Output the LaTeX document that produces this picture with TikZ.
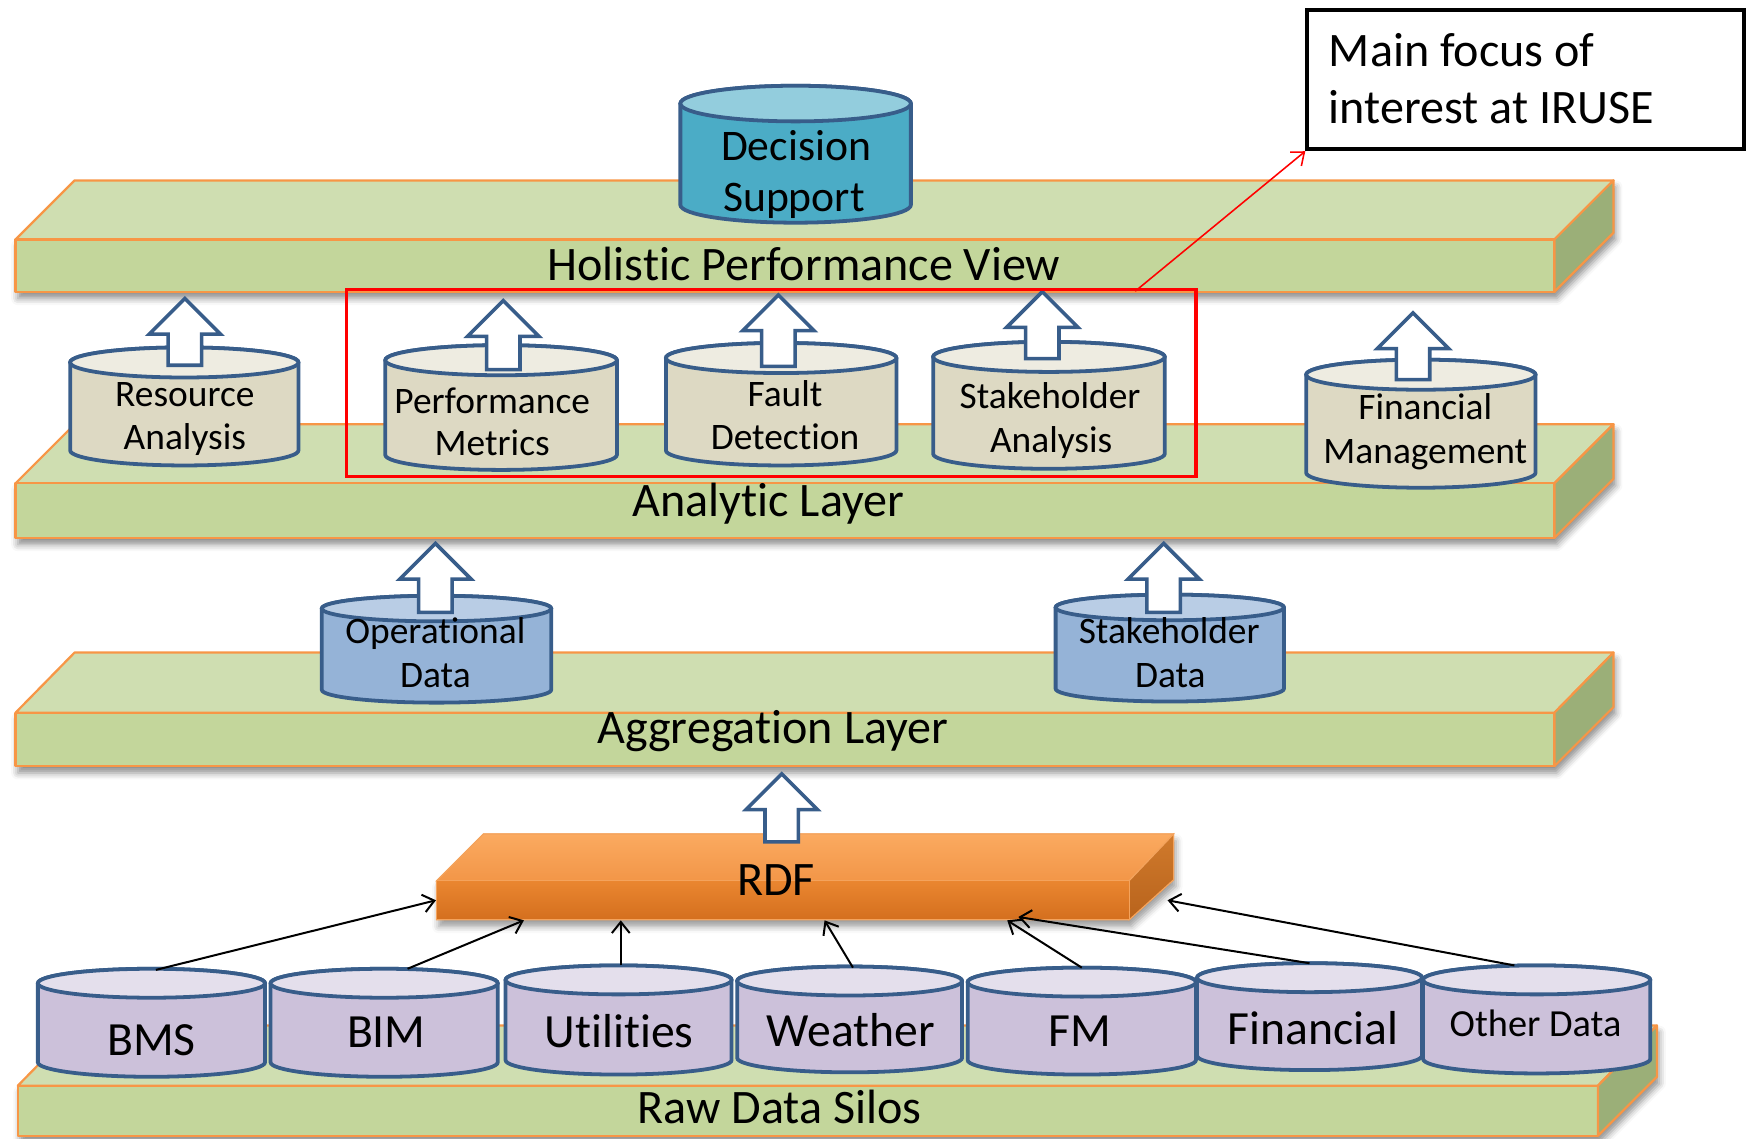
\documentclass[tikz,border=0pt]{standalone}
\usepackage{fontspec}
\setmainfont{Carlito}[Ligatures=NoCommon]
\usetikzlibrary{arrows.meta,calc,shadows.blur}

\definecolor{slabtop}{HTML}{CFDEB1}
\definecolor{slabfront}{HTML}{C3D69B}
\definecolor{slabside}{HTML}{9BAF78}
\definecolor{slabedge}{HTML}{F79646}
\definecolor{cyledge}{HTML}{385D8A}
\definecolor{anbody}{HTML}{DDD9C3}
\definecolor{antop}{HTML}{EEECE1}
\definecolor{agbody}{HTML}{95B3D7}
\definecolor{agtop}{HTML}{B9CDE5}
\definecolor{rawbody}{HTML}{CCC1DA}
\definecolor{rawtop}{HTML}{E4DFEC}
\definecolor{dsbody}{HTML}{4BACC6}
\definecolor{dstop}{HTML}{93CDDD}
\definecolor{focusred}{HTML}{FF0000}
\definecolor{rdftopA}{HTML}{FBAA60}
\definecolor{rdftopB}{HTML}{F29648}
\definecolor{rdffrontA}{HTML}{EA8630}
\definecolor{rdffrontB}{HTML}{D46F1E}
\definecolor{rdfsideA}{HTML}{D07A2C}
\definecolor{rdfsideB}{HTML}{B8631C}
\definecolor{rdfedge}{HTML}{F4A35C}

\tikzset{
  slabface/.style={draw=slabedge, line width=1pt, line join=round},
  slabshadow/.style={fill=slabfront, blur shadow={shadow xshift=1pt, shadow yshift=-3pt, shadow blur radius=3pt, shadow opacity=45}},
  cylline/.style={draw=cyledge, line width=1.7pt},
  cylbox/.style={draw=none, inner sep=0pt, outer sep=0pt, rectangle},
  blockarrow/.style={draw=cyledge, fill=white, line width=1.6pt, line join=miter},
  feed/.style={draw=black, line width=0.9pt, -{Straight Barb[length=5pt,width=8pt]}},
  focuslink/.style={draw=focusred, line width=0.7pt, -{Straight Barb[length=5pt,width=8pt]}},
  layertext/.style={font=\fontsize{21.6}{26}\selectfont, anchor=base, inner sep=0pt},
  drumtext/.style={font=\fontsize{16.8}{20}\selectfont, anchor=base, inner sep=0pt},
  rawtext/.style={font=\fontsize{21.4}{26}\selectfont, anchor=base, inner sep=0pt},
}

% #1 back y, #2 front-top y, #3 bottom y, #4 front-left x, #5 front-right x, #6 depth
\newcommand\slab[6]{%
  \path[slabshadow] (#4,#2) -- ({#4+#6},#1) -- ({#5+#6},#1) -- ({#5+#6},{#3-#6}) -- (#5,#3) -- (#4,#3) -- cycle;
  \path[slabface, fill=slabtop] (#4,#2) -- ({#4+#6},#1) -- ({#5+#6},#1) -- (#5,#2) -- cycle;
  \path[slabface, fill=slabfront] (#4,#2) rectangle (#5,#3);
  \path[slabface, fill=slabside] (#5,#2) -- ({#5+#6},#1) -- ({#5+#6},{#3-#6}) -- (#5,#3) -- cycle;
}

% #1 name, #2 left x, #3 right x, #4 top y, #5 bottom y, #6 lid half-height, #7 body, #8 lid
\newcommand\drum[8]{%
  \pgfmathsetmacro\drumcx{(#2+#3)/2}%
  \pgfmathsetmacro\drumrx{(#3-#2)/4}%
  \pgfmathsetmacro\drumry{#6/2}%
  \pgfmathsetmacro\drumyt{#4+#6}%
  \pgfmathsetmacro\drumyb{#5-#6}%
  \pgfmathsetmacro\drumw{(#3-#2)/2}%
  \pgfmathsetmacro\drumh{(#5-#4)/2}%
  \path[cylline, fill=#7] (#2,\drumyt) -- (#2,\drumyb)
     arc[start angle=180, end angle=360, x radius=\drumrx pt, y radius=\drumry pt]
     -- (#3,\drumyt)
     arc[start angle=0, end angle=180, x radius=\drumrx pt, y radius=\drumry pt] -- cycle;
  \path[cylline, fill=#8] (\drumcx,\drumyt) ellipse[x radius=\drumrx pt, y radius=\drumry pt];
  \node[cylbox, minimum width=\drumw pt, minimum height=\drumh pt] (#1) at (\drumcx,{(#4+#5)/2}) {};
}

% #1 centre x, #2 tip y, #3 tail y
\newcommand\upblock[3]{%
  \path[blockarrow] (#1,#2) -- ({#1+32},{#2+32}) -- ({#1+15},{#2+32}) -- ({#1+15},#3)
    -- ({#1-15},#3) -- ({#1-15},{#2+32}) -- ({#1-32},{#2+32}) -- cycle;
}

\begin{document}
\begin{tikzpicture}[x=0.5pt, y=-0.5pt]
\useasboundingbox (0,0) rectangle (1568,1022);

% ---- layers ----
\slab{162}{215}{262}{14}{1396}{53}
\slab{381}{434}{483}{14}{1396}{53}
\slab{586}{640}{688}{14}{1396}{53}
\slab{921}{975}{1020}{16}{1435}{53}

% ---- RDF slab ----
\path[draw=rdfedge, line width=0.5pt, fill=rdffrontB,
  blur shadow={shadow xshift=1pt, shadow yshift=-3pt, shadow blur radius=3pt, shadow opacity=40}]
  (392,791) -- (434,749) -- (1054,749) -- (1054,790) -- (1014,826) -- (392,826) -- cycle;
\path[draw=rdfedge, line width=0.5pt, top color=rdftopA, bottom color=rdftopB]
  (392,791) -- (434,749) -- (1054,749) -- (1014,791) -- cycle;
\path[draw=rdfedge, line width=0.5pt, top color=rdfsideA, bottom color=rdfsideB]
  (1014,791) -- (1054,749) -- (1054,790) -- (1014,826) -- cycle;
\node[draw=rdfedge, line width=0.5pt, top color=rdffrontA, bottom color=rdffrontB,
  inner sep=0pt, minimum width=311pt, minimum height=17.5pt] (rdf) at (703,808.5) {};

% ---- cylinders ----
\drum{ds}{611}{818}{77}{200}{16}{dsbody}{dstop}

\drum{ra}{63}{268}{312}{418}{13.5}{anbody}{antop}
\drum{pm}{346}{554}{310}{422}{13.5}{anbody}{antop}
\drum{fd}{598}{805}{308}{418}{13.5}{anbody}{antop}
\drum{sa}{838}{1046}{307}{421}{13.5}{anbody}{antop}
\drum{fmg}{1173}{1379}{323}{438}{13.5}{anbody}{antop}

\drum{od}{289}{495}{535}{631}{11.5}{agbody}{agtop}
\drum{sd}{948}{1153}{534}{630}{11.5}{agbody}{agtop}

\drum{bms}{34}{238}{870}{967}{13}{rawbody}{rawtop}
\drum{bim}{243}{447}{870}{967}{13}{rawbody}{rawtop}
\drum{util}{454}{657}{867}{965}{13}{rawbody}{rawtop}
\drum{wea}{662}{864}{868}{963}{13}{rawbody}{rawtop}
\drum{fm}{869}{1074}{869}{965}{13}{rawbody}{rawtop}
\drum{fin}{1075}{1277}{865}{961}{13}{rawbody}{rawtop}
\drum{oth}{1278}{1482}{867}{964}{13}{rawbody}{rawtop}

% ---- hollow block arrows ----
\upblock{166}{268}{328}
\upblock{452}{270}{332}
\upblock{699}{265}{329}
\upblock{936}{262}{322}
\upblock{1269}{281}{341}
\upblock{391}{488}{550}
\upblock{1045}{488}{550}
\upblock{702}{695}{756}

% ---- feeds into RDF ----
\draw[feed] ($(bms.north)+(4,1)$) -- (rdf.west);
\draw[feed] ($(bim.north)+(21,0)$) -- ($(rdf.south west)+(79,0)$);
\draw[feed] ($(util.north)+(2,0)$) -- ($(util.north |- rdf.south)+(2,0)$);
\draw[feed] ($(wea.north)+(3,1)$) -- ($(rdf.south west)+(349,0)$);
\draw[feed] (fm.north) -- ($(rdf.south west)+(513,0)$);
\draw[feed] (fin.north) -- ($(rdf.south west)+(523,-3)$);
\draw[feed] ($(oth.north)+(-20,0)$) -- ($(rdf.east)+(34,0)$);

% ---- focus frame and callout ----
\node[draw=focusred, line width=1.5pt, inner sep=0pt, minimum width=381.5pt, minimum height=84pt] (focusframe) at (692.5,344) {};
\node[draw=black, line width=1.8pt, fill=white, inner sep=0pt, minimum width=196pt, minimum height=62.5pt] (focusbox) at (1370,71.5) {};
\draw[focuslink] ($(focusframe.north east)+(-56,3)$) -- (focusbox.south west);
\node[layertext, anchor=base west] (fb1) at (1193,60) {Main focus of};
\node[layertext, anchor=base west] (fb2) at (1193,111) {interest at IRUSE};

% ---- labels ----
\node[layertext] (hpv) at (722,251.5) {Holistic Performance View};
\node[layertext] (anl) at (690,464) {Analytic Layer};
\node[layertext] (agl) at (694,667.6) {Aggregation Layer};
\node[layertext] (rdsl) at (700,1008.7) {Raw Data Silos};
\node[layertext] (rdfl) at (697,803.8) {RDF};

\node[layertext, font=\fontsize{19.6}{24}\selectfont] (ds1) at (715,144) {Decision};
\node[layertext, font=\fontsize{19.6}{24}\selectfont] (ds2) at (713,190) {Support};

\node[drumtext] (ra1) at (166,365) {Resource};
\node[drumtext] (ra2) at (166,404) {Analysis};
\node[drumtext] (pm1) at (442,371) {Performance};
\node[drumtext] (pm2) at (442,409) {Metrics};
\node[drumtext] (fd1) at (705,365) {Fault};
\node[drumtext] (fd2) at (705,404) {Detection};
\node[drumtext] (sa1) at (943,367) {Stakeholder};
\node[drumtext] (sa2) at (944,406) {Analysis};
\node[drumtext] (fmg1) at (1280,377) {Financial};
\node[drumtext] (fmg2) at (1280,416) {Management};
\node[drumtext] (od1) at (391,578) {Operational};
\node[drumtext] (od2) at (391,617) {Data};
\node[drumtext] (sd1) at (1050,578) {Stakeholder};
\node[drumtext] (sd2) at (1051,617) {Data};

\node[rawtext] (bmsl) at (136,947.5) {BMS};
\node[rawtext] (biml) at (347,940.5) {BIM};
\node[rawtext] (utill) at (556,940.5) {Utilities};
\node[rawtext] (weal) at (764,939.5) {Weather};
\node[rawtext] (fml) at (970,940) {FM};
\node[rawtext] (finl) at (1179,937.6) {Financial};
\node[rawtext, font=\fontsize{17.2}{21}\selectfont] (othl) at (1379,930.4) {Other Data};
\end{tikzpicture}
\end{document}
